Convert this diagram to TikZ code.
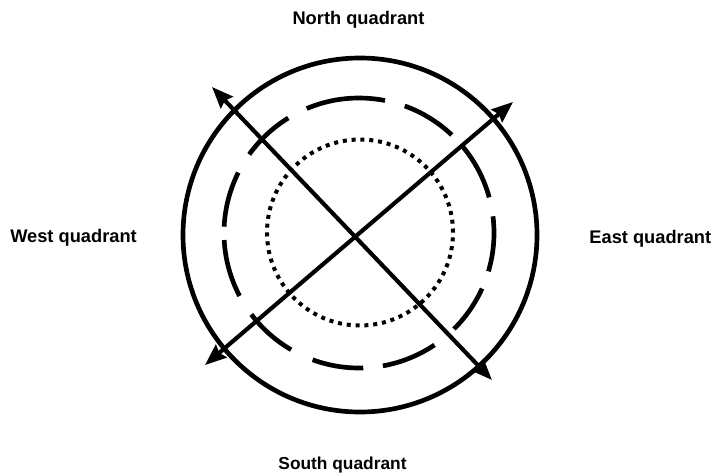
\documentclass[tikz,border=0pt]{standalone}
\usepackage{fontspec}
\setmainfont{Liberation Sans}
\usetikzlibrary{arrows.meta}
\begin{document}
\begin{tikzpicture}[x=0.75pt,y=-0.75pt,
  lbl/.style={font=\fontsize{13.7}{16}\selectfont\bfseries, inner sep=0pt},
  ring/.style={line width=3.5pt},
  dashring/.style={line width=3.5pt},
  dotring/.style={line width=3pt, dash pattern=on 3pt off 3.64pt},
  axis/.style={line width=3.1pt, {Stealth[length=16pt,width=12.5pt,inset=2pt]}-{Stealth[length=16pt,width=12.5pt,inset=2pt]}}
]
\useasboundingbox (0,0) rectangle (712,474);
\fill[white] (0,0) rectangle (712,474);
% centres
\coordinate (co) at (360,235);
\coordinate (cd) at (359,233);
\coordinate (ci) at (360,232.5);
% outer ring
\draw[ring] (co) circle[radius=132.75pt];
% dashed ring as separate arcs
\foreach \a/\b in {-16.5/7.1, 15.3/39.6, 46.6/70.2, 78.9/112.8, 121.6/144.4, 153.4/177.3, 183/207.8, 217.1/239.8, 249.9/271.8, 280.2/304, 314.7/335.7}{
  \draw[dashring] ([shift={(\a:101.25pt)}]cd) arc[start angle=\a, end angle=\b, radius=101.25pt];
}
% dotted ring
\draw[dotring] (ci) circle[radius=69.75pt];
% arrows
\coordinate (nw) at (212,87);
\coordinate (se) at (492,380);
\coordinate (sw) at (205,365);
\coordinate (ne) at (513,102);
\draw[axis] (nw) -- (se);
\draw[axis] (sw) -- (ne);
% labels
\node[lbl, anchor=base] (north) at (358.5,25) {North quadrant};
\node[lbl, anchor=base, font=\fontsize{13}{16}\selectfont\bfseries] (south) at (342.5,469.5) {South quadrant};
\node[lbl, anchor=base west] (west) at (10,242.5) {West quadrant};
\node[lbl, anchor=base east] (east) at (711.5,243) {East quadrant};
\end{tikzpicture}
\end{document}
